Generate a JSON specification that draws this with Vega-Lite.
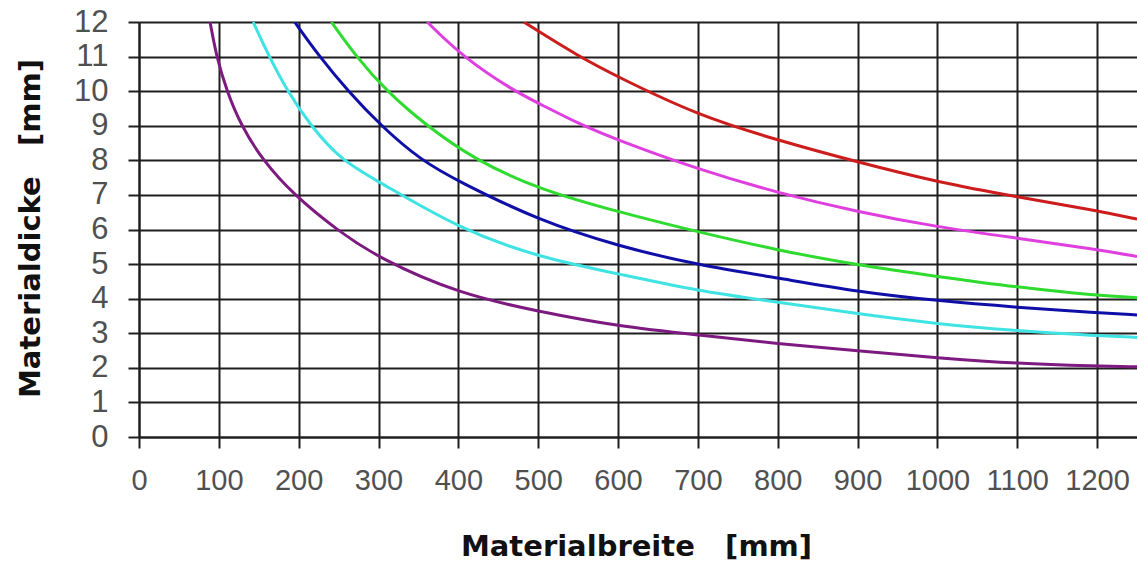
{
  "$schema": "https://vega.github.io/schema/vega-lite/v6.json",
  "autosize": "none",
  "width": 998,
  "height": 415,
  "padding": {"left": 139, "top": 22, "right": 0, "bottom": 125},
  "background": "white",
  "config": {
    "view": {"stroke": null},
    "axis": {
      "grid": true,
      "gridColor": "#1e1e1e",
      "gridWidth": 2,
      "gridOpacity": 1,
      "domainColor": "#1e1e1e",
      "domainWidth": 2,
      "tickColor": "#1e1e1e",
      "tickWidth": 2,
      "tickSize": 11,
      "labelColor": "#505050",
      "labelOverlap": false,
      "titleColor": "#111111",
      "titleFont": "DejaVu Sans",
      "titleFontWeight": "bold",
      "titleFontSize": 29
    }
  },
  "data": {
    "values": [
      {"s": "a", "x": 89, "y": 12}, {"s": "a", "x": 97, "y": 11}, {"s": "a", "x": 110, "y": 10}, {"s": "a", "x": 128, "y": 9}, {"s": "a", "x": 155, "y": 8}, {"s": "a", "x": 194, "y": 7}, {"s": "a", "x": 247, "y": 6}, {"s": "a", "x": 301, "y": 5.16}, {"s": "a", "x": 401, "y": 4.14}, {"s": "a", "x": 500, "y": 3.63}, {"s": "a", "x": 600, "y": 3.2}, {"s": "a", "x": 700, "y": 2.95}, {"s": "a", "x": 800, "y": 2.7}, {"s": "a", "x": 900, "y": 2.49}, {"s": "a", "x": 1000, "y": 2.29}, {"s": "a", "x": 1100, "y": 2.12}, {"s": "a", "x": 1200, "y": 2.05}, {"s": "a", "x": 1250, "y": 2.03},
      {"s": "b", "x": 143, "y": 12}, {"s": "b", "x": 163, "y": 11}, {"s": "b", "x": 186, "y": 10}, {"s": "b", "x": 215, "y": 9}, {"s": "b", "x": 253, "y": 8}, {"s": "b", "x": 303, "y": 7.35}, {"s": "b", "x": 401, "y": 6.02}, {"s": "b", "x": 500, "y": 5.2}, {"s": "b", "x": 600, "y": 4.72}, {"s": "b", "x": 700, "y": 4.22}, {"s": "b", "x": 800, "y": 3.9}, {"s": "b", "x": 900, "y": 3.56}, {"s": "b", "x": 1000, "y": 3.27}, {"s": "b", "x": 1100, "y": 3.07}, {"s": "b", "x": 1200, "y": 2.93}, {"s": "b", "x": 1250, "y": 2.88},
      {"s": "c", "x": 195, "y": 12}, {"s": "c", "x": 226, "y": 11}, {"s": "c", "x": 262, "y": 10}, {"s": "c", "x": 303, "y": 9}, {"s": "c", "x": 353, "y": 8}, {"s": "c", "x": 401, "y": 7.38}, {"s": "c", "x": 500, "y": 6.27}, {"s": "c", "x": 600, "y": 5.52}, {"s": "c", "x": 700, "y": 4.97}, {"s": "c", "x": 800, "y": 4.6}, {"s": "c", "x": 900, "y": 4.2}, {"s": "c", "x": 1000, "y": 3.94}, {"s": "c", "x": 1100, "y": 3.75}, {"s": "c", "x": 1200, "y": 3.59}, {"s": "c", "x": 1250, "y": 3.53},
      {"s": "d", "x": 241, "y": 12}, {"s": "d", "x": 272, "y": 11}, {"s": "d", "x": 310, "y": 10}, {"s": "d", "x": 360, "y": 9}, {"s": "d", "x": 422, "y": 8}, {"s": "d", "x": 500, "y": 7.17}, {"s": "d", "x": 600, "y": 6.51}, {"s": "d", "x": 700, "y": 5.93}, {"s": "d", "x": 800, "y": 5.4}, {"s": "d", "x": 900, "y": 4.97}, {"s": "d", "x": 1000, "y": 4.64}, {"s": "d", "x": 1100, "y": 4.33}, {"s": "d", "x": 1200, "y": 4.09}, {"s": "d", "x": 1250, "y": 4.03},
      {"s": "e", "x": 361, "y": 12}, {"s": "e", "x": 405, "y": 11}, {"s": "e", "x": 470, "y": 10}, {"s": "e", "x": 500, "y": 9.66}, {"s": "e", "x": 551, "y": 9.05}, {"s": "e", "x": 600, "y": 8.58}, {"s": "e", "x": 700, "y": 7.74}, {"s": "e", "x": 800, "y": 7.06}, {"s": "e", "x": 900, "y": 6.51}, {"s": "e", "x": 1000, "y": 6.07}, {"s": "e", "x": 1100, "y": 5.75}, {"s": "e", "x": 1200, "y": 5.42}, {"s": "e", "x": 1250, "y": 5.22},
      {"s": "f", "x": 482, "y": 12}, {"s": "f", "x": 551, "y": 11}, {"s": "f", "x": 600, "y": 10.41}, {"s": "f", "x": 700, "y": 9.3}, {"s": "f", "x": 800, "y": 8.58}, {"s": "f", "x": 900, "y": 7.95}, {"s": "f", "x": 1000, "y": 7.37}, {"s": "f", "x": 1100, "y": 6.94}, {"s": "f", "x": 1200, "y": 6.55}, {"s": "f", "x": 1250, "y": 6.3}
    ]
  },
  "mark": {"type": "line", "interpolate": "basis", "strokeWidth": 3, "clip": true},
  "encoding": {
    "x": {
      "field": "x",
      "type": "quantitative",
      "scale": {"domain": [0, 1250], "nice": false},
      "axis": {
        "title": "Materialbreite\u00a0\u00a0\u00a0[mm]",
        "values": [0, 100, 200, 300, 400, 500, 600, 700, 800, 900, 1000, 1100, 1200],
        "format": "d",
        "labelFont": "Liberation Sans",
        "labelFontSize": 29,
        "labelPadding": 18,
        "labelFlush": false,
        "titleX": 497,
        "titleY": 118,
        "titleBaseline": "alphabetic"
      }
    },
    "y": {
      "field": "y",
      "type": "quantitative",
      "scale": {"domain": [0, 12], "nice": false},
      "axis": {
        "title": "Materialdicke\u00a0\u00a0\u00a0[mm]",
        "values": [0, 1, 2, 3, 4, 5, 6, 7, 8, 9, 10, 11, 12],
        "format": "d",
        "labelFont": "Liberation Sans",
        "labelFontSize": 31,
        "labelPadding": 20,
        "labelFlush": false,
        "titleX": -109,
        "titleY": 206,
        "titleBaseline": "middle"
      }
    },
    "color": {
      "field": "s",
      "type": "nominal",
      "scale": {"domain": ["a", "b", "c", "d", "e", "f"], "range": ["#7d1a80", "#3fe3e3", "#0f0fa8", "#2edb2e", "#df3fdf", "#cc1c1c"]},
      "legend": null
    }
  }
}
